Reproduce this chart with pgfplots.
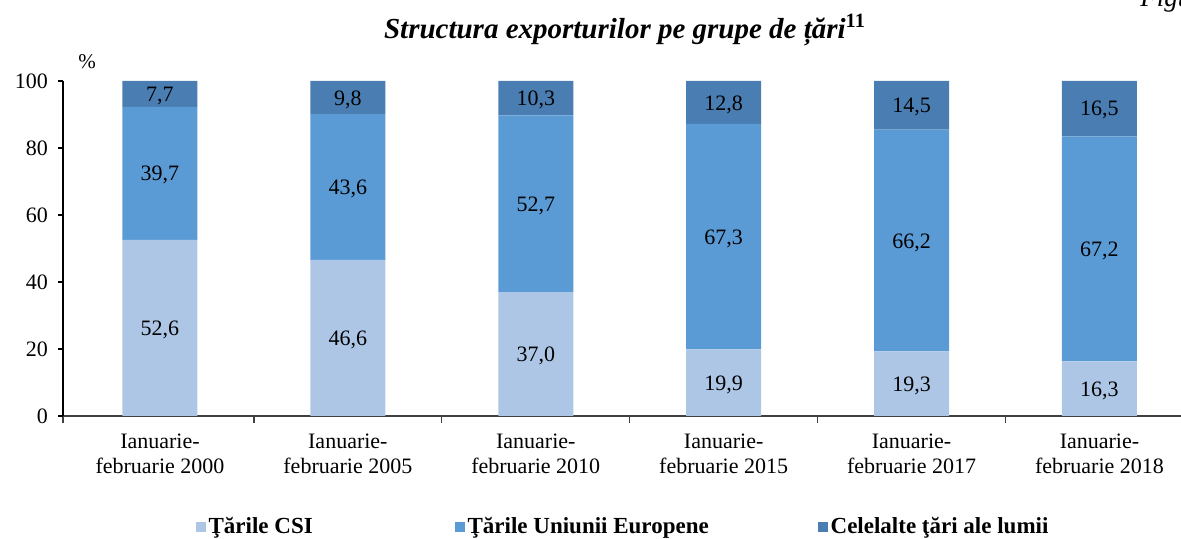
\documentclass[border=0pt]{standalone}
\usepackage{fontspec}
\setmainfont{Liberation Serif}
\usepackage{pgfplots}
\pgfplotsset{compat=1.18}
\usepackage{pgfplotstable}
\definecolor{cCSI}{RGB}{173,198,230}
\definecolor{cEU}{RGB}{91,155,213}
\definecolor{cOth}{RGB}{74,126,178}
\definecolor{axgray}{RGB}{64,64,64}
\pgfplotstableread{
x csi eu oth
0 52.6 39.7 7.7
1 46.6 43.6 9.8
2 37.0 52.7 10.3
3 19.9 67.3 12.8
4 19.3 66.2 14.5
5 16.3 67.2 16.5
}\datatable
\pgfplotstableread{
x y label
0 26.3 52,6
1 23.3 46,6
2 18.5 37,0
3 9.95 19,9
4 9.65 19,3
5 8.15 16,3
0 72.45 39,7
1 68.4 43,6
2 63.35 52,7
3 53.55 67,3
4 52.4 66,2
5 49.9 67,2
0 96.15 7,7
1 95.1 9,8
2 94.85 10,3
3 93.6 12,8
4 92.75 14,5
5 91.85 16,5
}\labeltable
\pgfplotsset{
  commonax/.style={
    at={(31.5pt,61.5pt)}, anchor=south west,
    scale only axis, width=559pt, height=167.5pt,
    xmin=-0.516, xmax=5.434, ymin=0, ymax=100,
  }
}
\begin{document}
\begin{tikzpicture}
\useasboundingbox (0pt,0pt) rectangle (590.5pt,269.5pt);
\begin{axis}[commonax,
  ybar stacked, bar width=37.5pt,
  axis x line*=bottom, axis y line*=left,
  axis line style={-, black, line width=0.6pt},
  x axis line style={axgray},
  tick align=outside, major tick length=3.5pt,
  xtick={-0.516,0.5,1.5,2.5,3.5,4.5},
  xticklabels={},
  x tick style={axgray, line width=0.6pt},
  extra x ticks={0,1,2,3,4,5},
  extra x tick labels={{Ianuarie-\\februarie 2000},{Ianuarie-\\februarie 2005},{Ianuarie-\\februarie 2010},{Ianuarie-\\februarie 2015},{Ianuarie-\\februarie 2017},{Ianuarie-\\februarie 2018}},
  extra x tick style={major tick length=0pt},
  xticklabel style={align=center, font=\fontsize{11}{12.5}\selectfont, yshift=-5.5pt},
  ytick=\empty,
  extra y ticks={0,20,40,60,80,100},
  extra y tick style={major tick length=2.5pt},
  y tick style={black, line width=0.6pt},
  yticklabel style={font=\fontsize{11}{12}\selectfont, xshift=-1.5pt},
  /pgf/number format/assume math mode=true,
  legend columns=3,
  legend style={at={(0.119,0)}, anchor=north west, yshift=-48.5pt, draw=none, fill=none, inner sep=0pt,
    font=\bfseries\fontsize{11.5}{13}\selectfont,
    nodes={inner xsep=1.5pt},
    /tikz/every even column/.append style={column sep=0pt}},
  legend image code/.code={\fill[#1] (0pt,-2.3pt) rectangle (4.6pt,2.3pt);},
  clip=false,
]
\addplot[fill=cCSI, draw=none] table[x=x, y=csi] {\datatable};
\addlegendentry{\makebox[121.9pt][l]{Ţările CSI}}
\addplot[fill=cEU, draw=none] table[x=x, y=eu] {\datatable};
\addlegendentry{\makebox[173.9pt][l]{Ţările Uniunii Europene}}
\addplot[fill=cOth, draw=none] table[x=x, y=oth] {\datatable};
\addlegendentry{Celelalte ţări ale lumii}
\end{axis}
\begin{axis}[commonax, hide axis, clip=false]
\addplot[draw=none, mark=none, nodes near coords, point meta=explicit symbolic,
  every node near coord/.append style={anchor=center, yshift=-1pt, font=\fontsize{11}{12}\selectfont, text=black}]
  table[x=x, y=y, meta=label] {\labeltable};
\end{axis}
\node[font=\fontsize{10.5}{12}\selectfont] at (43.5pt,238.5pt) {\%};
\node[font=\bfseries\itshape\fontsize{14.5}{17}\selectfont] at (312.5pt,254.5pt) {Structura exporturilor pe grupe de țări\textsuperscript{\upshape 11}};
\node[font=\itshape\fontsize{13.5}{16}\selectfont, anchor=base west, inner sep=0pt] at (570pt,266pt) {Figura};
\end{tikzpicture}
\end{document}
